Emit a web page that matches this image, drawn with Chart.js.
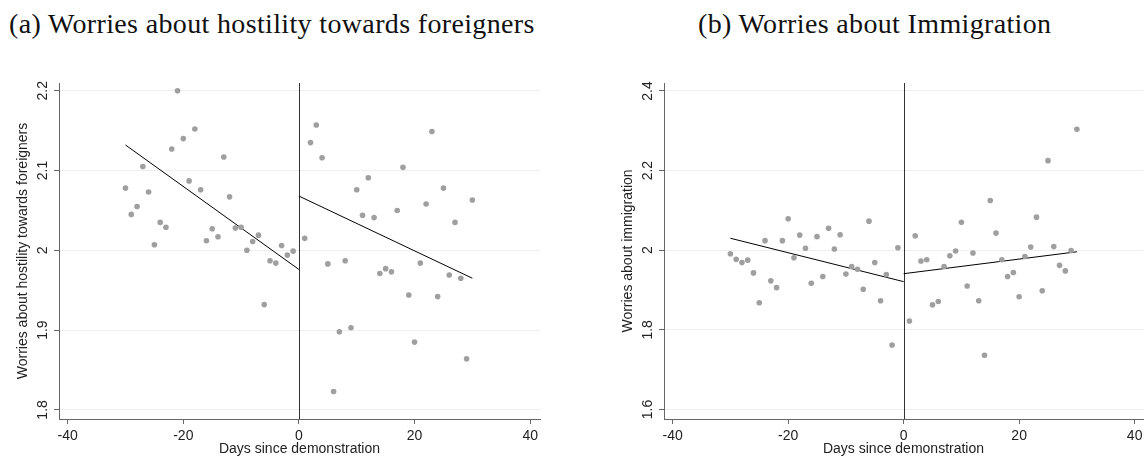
<!DOCTYPE html>
<html>
<head>
<meta charset="utf-8">
<script src="https://cdn.jsdelivr.net/npm/chart.js@4.4.1/dist/chart.umd.min.js"></script>
<style>
  html, body { margin: 0; padding: 0; background: #fff; }
  body { width: 1147px; height: 457px; position: relative; overflow: hidden; }
  .ttl { position: absolute; top: 10px; font-family: "Liberation Serif", serif; font-size: 28px; line-height: 28px; letter-spacing: 0.35px; color: #111; white-space: nowrap; }
  canvas { position: absolute; top: 70px; }
</style>
</head>
<body>
<div class="ttl" id="ta" style="left:9px;">(a) Worries about hostility towards foreigners</div>
<div class="ttl" id="tb" style="left:698px;">(b) Worries about Immigration</div>
<canvas id="ca" width="573" height="387" style="left:0px;"></canvas>
<canvas id="cb" width="574" height="387" style="left:573px;"></canvas>
<script>
// ---- data ----
const daysPre  = [-30,-29,-28,-27,-26,-25,-24,-23,-22,-21,-20,-19,-18,-17,-16,-15,-14,-13,-12,-11,-10,-9,-8,-7,-6,-5,-4,-3,-2,-1];
const daysPost = [1,2,3,4,5,6,7,8,9,10,11,12,13,14,15,16,17,18,19,20,21,22,23,24,25,26,27,28,29,30];

const hostilityPre  = [2.078,2.045,2.055,2.105,2.073,2.007,2.035,2.029,2.127,2.200,2.140,2.087,2.152,2.076,2.012,2.027,2.017,2.117,2.067,2.028,2.029,2.000,2.011,2.019,1.932,1.987,1.984,2.006,1.994,1.999];
const hostilityPost = [2.015,2.135,2.157,2.116,1.983,1.823,1.898,1.987,1.903,2.076,2.044,2.091,2.041,1.971,1.977,1.973,2.050,2.104,1.944,1.885,1.984,2.058,2.149,1.942,2.078,1.969,2.035,1.965,1.864,2.063];

const immigrationPre  = [1.991,1.977,1.969,1.975,1.943,1.868,2.024,1.923,1.906,2.024,2.079,1.981,2.038,2.005,1.917,2.034,1.934,2.055,2.003,2.039,1.940,1.959,1.952,1.902,2.073,1.969,1.873,1.939,1.762,2.006];
const immigrationPost = [1.822,2.036,1.973,1.976,1.863,1.871,1.959,1.986,1.998,2.070,1.910,1.993,1.873,1.736,2.125,2.043,1.976,1.934,1.944,1.883,1.984,2.008,2.083,1.898,2.225,2.009,1.962,1.948,1.999,2.304];

const fitDaysPre  = [-30, 0];
const fitDaysPost = [0, 30];
const hostilityFitPre  = [2.132, 1.976];
const hostilityFitPost = [2.068, 1.965];
const immigrationFitPre  = [2.030, 1.921];
const immigrationFitPost = [1.941, 1.996];

const xTicks = [-40, -20, 0, 20, 40];
const hostilityTicks = [1.8, 1.9, 2, 2.1, 2.2];
const immigrationTicks = [1.6, 1.8, 2, 2.2, 2.4];

const xTitle = "Days since demonstration";
const hostilityTitle = "Worries about hostility towards foreigners";
const immigrationTitle = "Worries about immigration";

// ---- drawing ----
function pts(xs, ys) { return xs.map((x, i) => ({ x: x, y: ys[i] })); }

const zeroLine = {
  id: 'zeroLine',
  beforeDatasetsDraw(chart) {
    const { ctx, chartArea, scales } = chart;
    const px = Math.round(scales.x.getPixelForValue(0)) + 0.5;
    ctx.save();
    ctx.strokeStyle = '#333';
    ctx.lineWidth = 1;
    ctx.beginPath();
    ctx.moveTo(px, chartArea.top);
    ctx.lineTo(px, chartArea.bottom);
    ctx.stroke();
    ctx.restore();
  }
};

const font = { family: '"Liberation Sans", Arial, sans-serif', size: 14 };
const fmt = (v) => String(Math.round(v * 10) / 10);

function makeChart(id, pre, post, fitPre, fitPost, yTicks, yMin, yMax, xMin, xMax, yTitle, padLeft, padRight) {
  const pointStyle = { pointRadius: 2.8, pointBackgroundColor: '#9f9f9f', pointBorderWidth: 0, showLine: false };
  const lineStyle = { showLine: true, pointRadius: 0, borderColor: '#000', borderWidth: 1, fill: false };
  return new Chart(document.getElementById(id), {
    type: 'scatter',
    data: {
      datasets: [
        Object.assign({ data: pts(daysPre, pre) }, pointStyle),
        Object.assign({ data: pts(daysPost, post) }, pointStyle),
        Object.assign({ data: pts(fitDaysPre, fitPre) }, lineStyle),
        Object.assign({ data: pts(fitDaysPost, fitPost) }, lineStyle)
      ]
    },
    options: {
      responsive: false,
      animation: false,
      devicePixelRatio: 1,
      layout: { padding: { left: padLeft, right: padRight, top: 13, bottom: 0 } },
      plugins: { legend: { display: false }, tooltip: { enabled: false } },
      scales: {
        x: {
          type: 'linear', min: xMin, max: xMax,
          afterBuildTicks: (axis) => { axis.ticks = xTicks.map(v => ({ value: v })); },
          afterFit: (scale) => { scale.height = 38; },
          grid: { drawOnChartArea: false, drawTicks: true, tickLength: 5, tickColor: '#666' },
          border: { display: true, color: '#666', width: 1 },
          ticks: { font: font, color: '#222', padding: 4, maxRotation: 0, autoSkip: false, callback: fmt },
          title: { display: true, text: xTitle, font: Object.assign({ lineHeight: 1 }, font), color: '#222', padding: { top: 0, bottom: 1 } }
        },
        y: {
          type: 'linear', min: yMin, max: yMax,
          afterBuildTicks: (axis) => { axis.ticks = yTicks.map(v => ({ value: v })); },
          afterFit: (scale) => { scale.width = 59; },
          grid: { color: '#e9f1f2', tickColor: '#666', tickLength: 5, drawTicks: true },
          border: { display: true, color: '#666', width: 1 },
          ticks: { font: font, color: '#222', padding: 1, minRotation: 90, maxRotation: 90, crossAlign: 'center', autoSkip: false, callback: fmt },
          title: { display: true, text: yTitle, font: Object.assign({ lineHeight: 1 }, font), color: '#222', padding: { top: 16, bottom: 0 } }
        }
      }
    },
    plugins: [zeroLine]
  });
}

makeChart('ca', hostilityPre, hostilityPost, hostilityFitPre, hostilityFitPost, hostilityTicks, 1.7886, 2.2097, -41.5, 41.7, hostilityTitle, 0, 33);
makeChart('cb', immigrationPre, immigrationPost, immigrationFitPre, immigrationFitPost, immigrationTicks, 1.576, 2.420, -41.5, 41.45, immigrationTitle, 32, 4);
</script>
</body>
</html>
